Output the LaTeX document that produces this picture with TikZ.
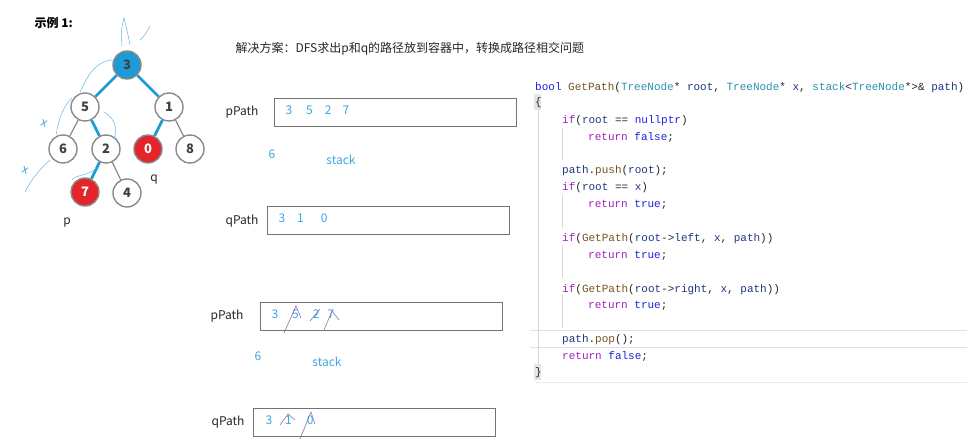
\documentclass[tikz,border=0pt]{standalone}
\usepackage{fontspec}
\setmainfont{Noto Sans CJK SC}
\setmonofont{Liberation Mono}
\usepackage{xcolor}
\usepackage{tikz}
\usetikzlibrary{positioning}

\definecolor{hlblue}{HTML}{1E9AD6}
\definecolor{hlred}{HTML}{E3242B}
\definecolor{ringgray}{HTML}{8A8A8A}
\definecolor{penblue}{HTML}{3AA8E0}
\definecolor{penpurple}{HTML}{8C6FB0}
\definecolor{kwblue}{HTML}{1F1FE0}
\definecolor{fnbrown}{HTML}{74531F}
\definecolor{tyteal}{HTML}{2B91AF}
\definecolor{varnavy}{HTML}{1F377F}
\definecolor{ctlpurple}{HTML}{A020C0}

\newcommand{\ckw}[1]{\textcolor{kwblue}{#1}}
\newcommand{\cfn}[1]{\textcolor{fnbrown}{#1}}
\newcommand{\cty}[1]{\textcolor{tyteal}{#1}}
\newcommand{\cvar}[1]{\textcolor{varnavy}{#1}}
\newcommand{\cctl}[1]{\textcolor{ctlpurple}{#1}}

\begin{document}
\begin{tikzpicture}[
  x=1pt, y=-1pt,
  tnode/.style={
    circle,
    draw=ringgray,
    line width=1.4pt,
    minimum size=28pt,
    inner sep=0pt,
    fill=white,
    font=\bfseries\fontsize{13}{13}\selectfont,
    text=black!75
  },
  rootnode/.style={tnode, fill=hlblue},
  target/.style={tnode, fill=hlred, text=white},
  edge/.style={draw=ringgray, line width=1.2pt},
  hotedge/.style={draw=hlblue, line width=2.8pt},
  pathbox/.style={draw=black!55, line width=0.8pt, minimum width=242pt, minimum height=28pt, inner sep=0pt},
  lbl/.style={font=\fontsize{12}{14}\selectfont, text=black!85},
  val/.style={font=\fontsize{12}{14}\selectfont, text=penblue},
  code/.style={anchor=base west, inner sep=0pt, font=\ttfamily\fontsize{11}{13}\selectfont, text=black!85},
  guide/.style={draw=black!15, line width=0.8pt},
  scribble/.style={draw=penblue!80, line width=0.5pt},
  strike/.style={draw=penpurple, line width=0.6pt}
]
  \useasboundingbox (0,0) rectangle (967,446);

  % heading
  \node[anchor=west, font=\bfseries\fontsize{12}{14}\selectfont] (title) at (31,23) {示例 1:};
  \node[anchor=west, lbl] (plan) at (232,49) {解决方案：DFS求出p和q的路径放到容器中，转换成路径相交问题};

  % tree
  \node[rootnode] (n3) at (127,65) {3};
  \node[tnode] (n5) at (85,107) {5};
  \node[tnode] (n1) at (169,107) {1};
  \node[tnode] (n6) at (63,149) {6};
  \node[tnode] (n2) at (106,149) {2};
  \node[target] (n0) at (148,149) {0};
  \node[tnode] (n8) at (190,149) {8};
  \node[target] (n7) at (85,192) {7};
  \node[tnode] (n4) at (127,193) {4};
  \node[lbl] (q) at (154,180) {q};
  \node[lbl] (p) at (67,223) {p};

  \draw[hotedge] (n3) -- (n5);
  \draw[hotedge] (n3) -- (n1);
  \draw[hotedge] (n5) -- (n2);
  \draw[hotedge] (n1) -- (n0);
  \draw[hotedge] (n2) -- (n7);
  \draw[edge] (n5) -- (n6);
  \draw[edge] (n1) -- (n8);
  \draw[edge] (n2) -- (n4);

  % pen marks around the tree
  \draw[scribble] (122,46) .. controls (121,30) .. (124,18) .. controls (127,30) .. (130,45);
  \draw[scribble] (140,40) .. controls (145,35) .. (150,26);
  \draw[scribble] (112,60) .. controls (95,62) and (88,75) .. (80,92);
  \draw[scribble] (72,98) .. controls (60,110) and (58,125) .. (56,135);
  \draw[scribble] (104,112) .. controls (115,118) and (118,130) .. (114,138);
  \draw[scribble] (50,160) .. controls (40,168) and (28,185) .. (25,192);
  \draw[scribble] (96,168) .. controls (92,175) and (74,175) .. (72,180);
  \node[font=\fontsize{12}{12}\selectfont, text=penblue, rotate=-20] (mx1) at (44,123) {x};
  \node[font=\fontsize{12}{12}\selectfont, text=penblue, rotate=-20] (mx2) at (25,170) {x};

  % first pair of paths
  \node[pathbox, anchor=north west] (pbox1) at (274,98) {};
  \node[lbl, anchor=east] (plbl1) at (262,112) {pPath};
  \node[val, anchor=west] (pv1) at (282,110) {3\hspace{14pt}5\hspace{12pt}2\hspace{11pt}7};
  \node[val] (six1) at (272,154) {6};
  \node[val] (stk1) at (341,160) {stack};
  \node[pathbox, anchor=north west] (qbox1) at (267,206) {};
  \node[lbl, anchor=east] (qlbl1) at (262,221) {qPath};
  \node[val, anchor=west] (qv1) at (275,218) {3\hspace{12pt}1\hspace{17pt}0};

  % second pair of paths
  \node[pathbox, anchor=north west] (pbox2) at (260,302) {};
  \node[lbl, anchor=east] (plbl2) at (247,316) {pPath};
  \node[val, anchor=west] (pv2) at (268,314) {3\hspace{14pt}5\hspace{14pt}2\hspace{8pt}7};
  \node[val] (six2) at (258,356) {6};
  \node[val] (stk2) at (327,362) {stack};
  \node[pathbox, anchor=north west] (qbox2) at (253,408) {};
  \node[lbl, anchor=east] (qlbl2) at (248,422) {qPath};
  \node[val, anchor=west] (qv2) at (262,420) {3\hspace{13pt}1\hspace{15pt}0};

  \draw[strike] (284,333) -- (296,306) -- (301,318);
  \draw[strike] (310,321) -- (320,309);
  \draw[strike] (324,330) -- (332,311) -- (339,320);
  \draw[strike] (280,425) -- (288,414) -- (295,420);
  \draw[strike] (300,439) -- (311,412) -- (315,424);

  % code
  \draw[guide] (538,96) -- (538,380);
  \draw[guide] (562,128) -- (562,160);
  \draw[guide] (562,195) -- (562,228);
  \draw[guide] (562,245) -- (562,278);
  \draw[guide] (562,295) -- (562,328);
  \draw[draw=black!12, line width=0.7pt] (530,330) -- (967,330);
  \draw[draw=black!12, line width=0.7pt] (530,347) -- (967,347);
  \draw[draw=black!8, line width=0.6pt] (535,382) -- (967,382);
  \fill[black!10] (534,94) rectangle (541,110);
  \fill[black!10] (534,364) rectangle (541,380);

  \node[code] (c1) at (535,91) {\ckw{bool} \cfn{GetPath}(\cty{TreeNode}* \cvar{root}, \cty{TreeNode}* \cvar{x}, \cty{stack}<\cty{TreeNode}*>\& \cvar{path})};
  \node[code] (c2) at (535,106) {\{};
  \node[code] (c3) at (562,124) {\cctl{if}(\cvar{root} == \ckw{nullptr})};
  \node[code] (c4) at (588,141) {\cctl{return} \ckw{false};};
  \node[code] (c5) at (562,174) {\cvar{path}.\cfn{push}(\cvar{root});};
  \node[code] (c6) at (562,191) {\cctl{if}(\cvar{root} == \cvar{x})};
  \node[code] (c7) at (588,208) {\cctl{return} \ckw{true};};
  \node[code] (c8) at (562,242) {\cctl{if}(\cfn{GetPath}(\cvar{root}->\cvar{left}, \cvar{x}, \cvar{path}))};
  \node[code] (c9) at (588,259) {\cctl{return} \ckw{true};};
  \node[code] (c10) at (562,293) {\cctl{if}(\cfn{GetPath}(\cvar{root}->\cvar{right}, \cvar{x}, \cvar{path}))};
  \node[code] (c11) at (588,309) {\cctl{return} \ckw{true};};
  \node[code] (c12) at (562,343) {\cvar{path}.\cfn{pop}();};
  \node[code] (c13) at (562,360) {\cctl{return} \ckw{false};};
  \node[code] (c14) at (535,376) {\}};
\end{tikzpicture}
\end{document}
